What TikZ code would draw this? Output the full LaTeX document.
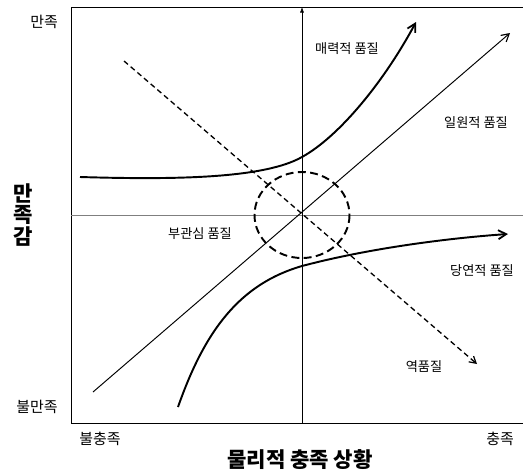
\documentclass[tikz,border=0pt]{standalone}
\usepackage{fontspec}
\setmainfont{Noto Sans CJK KR}
\usetikzlibrary{arrows.meta}

\definecolor{axisgray}{HTML}{7F7F7F}

\begin{document}
\begin{tikzpicture}[x=0.04cm,y=-0.04cm,font=\fontsize{15}{17}\selectfont,
  curvearrow/.style={line width=2.2pt,-{Straight Barb[length=3.2mm,width=3.6mm,line width=2pt]}},
  thinarrow/.style={line width=1.1pt,-{Straight Barb[length=3mm,width=3.4mm,line width=1.3pt]}},
  endlabel/.style={font=\fontsize{17}{19}\selectfont}]
\useasboundingbox (0,0) rectangle (523,470);
% frame and axes
\coordinate (tl) at (523,7);
\coordinate (bl) at (71,423);
\coordinate (o) at (302,215);
\coordinate (xl) at (71,215);
\coordinate (xr) at (523,215);
\coordinate (yb) at (302,423);
\coordinate (yt) at (302,7);
\draw[line width=0.9pt] (tl) -- (71,7) -- (bl) -- (523,423);
\draw[axisgray,line width=1pt] (xl) -- (xr);
\draw[line width=0.7pt,-{Latex[length=2.2mm,width=1.6mm]}] (yb) -- (yt);
% curves
\coordinate (a0) at (80,177);
\coordinate (a1) at (302,157);
\coordinate (a2) at (416,22);
\draw[curvearrow] (a0) .. controls (180,180) and (265,178) .. (a1)
  .. controls (340,136) and (385,80) .. (a2);
\coordinate (m0) at (178,407);
\coordinate (m1) at (302,266);
\coordinate (m2) at (508,234);
\draw[curvearrow] (m0) .. controls (205,330) and (240,284) .. (m1)
  .. controls (370,248) and (450,238) .. (m2);
\coordinate (l0) at (93,392);
\coordinate (l1) at (510,33);
\draw[thinarrow] (l0) -- (l1);
\coordinate (r0) at (124,61);
\coordinate (r1) at (477,364);
\draw[line width=1.5pt,dash pattern=on 6pt off 4pt,-{Straight Barb[length=2.6mm,width=3mm,line width=1.4pt]}] (r0) -- (r1);
\draw[line width=2.2pt,dash pattern=on 9pt off 5pt] (o) ellipse [x radius=47.5, y radius=43];
% labels
\node (attr) at (347,49) {매력적 품질};
\node (onedim) at (476,123) {일원적 품질};
\node (indif) at (200,234) {부관심 품질};
\node (must) at (482,271) {당연적 품질};
\node (rev) at (424,367) {역품질};
\node[endlabel] (sat) at (44,22) {만족};
\node[endlabel] (dissat) at (37,407) {불만족};
\node[endlabel] (unfull) at (100,439) {불충족};
\node[endlabel] (full) at (500,439) {충족};
\node[font=\fontsize{24}{25}\selectfont\bfseries,align=center] (ylab) at (23,215) {만\\족\\감};
\node[font=\fontsize{24}{26}\selectfont\bfseries] (xlab) at (300,460) {물리적 충족 상황};
\end{tikzpicture}
\end{document}
